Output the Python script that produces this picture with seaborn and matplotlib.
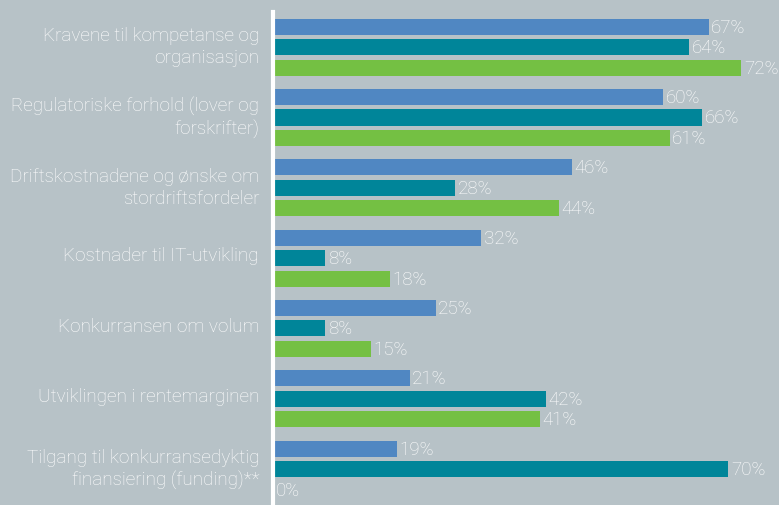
import matplotlib
matplotlib.use("Agg")
import matplotlib.pyplot as plt
import seaborn as sns
import pandas as pd
import numpy as np

categories = [
    "Kravene til kompetanse og\norganisasjon",
    "Regulatoriske forhold (lover og\nforskrifter)",
    "Driftskostnadene og ønske om\nstordriftsfordeler",
    "Kostnader til IT-utvikling",
    "Konkurransen om volum",
    "Utviklingen i rentemarginen",
    "Tilgang til konkurransedyktig\nfinansiering (funding)**",
]
series_names = ["Serie 1", "Serie 2", "Serie 3"]
series_a = [67, 60, 46, 32, 25, 21, 19]
series_b = [64, 66, 28, 8, 8, 42, 70]
series_c = [72, 61, 44, 18, 15, 41, 0]
colors = ["#5087c2", "#008599", "#74c043"]
bg = "#b7c2c7"

sns.set_theme(style="white")
plt.rcParams["font.family"] = ["Roboto", "DejaVu Sans"]

rows = []
for name, vals in zip(series_names, [series_a, series_b, series_c]):
    for cat, v in zip(categories, vals):
        rows.append({"cat": cat, "series": name, "value": v})
df = pd.DataFrame(rows)

W, H = 779, 506
fig = plt.figure(figsize=(W / 100, H / 100), dpi=100, facecolor=bg)
ax = fig.add_axes([273 / W, 0, 1 - 273 / W, (H - 13) / H])
ax.set_facecolor(bg)

sns.barplot(data=df, y="cat", x="value", hue="series", orient="h",
            palette=colors, width=0.87, gap=0.214, dodge=True,
            order=categories, hue_order=series_names, ax=ax,
            saturation=1, legend=False, errorbar=None, linewidth=0,
            edgecolor="none")

ax.set_xlim(0, (W - 273) / 6.5)
ax.set_ylim(6.51, -0.5)
ax.set_xlabel("")
ax.set_ylabel("")
ax.set_xticks([])

for s in ["top", "right", "bottom"]:
    ax.spines[s].set_visible(False)
ax.spines["left"].set_color("white")
ax.spines["left"].set_linewidth(3)
ax.spines["left"].set_zorder(5)

ax.set_yticks([i - 0.07 for i in range(len(categories))])
ax.set_yticklabels(categories, fontsize=13.6, color="white", fontweight="light",
                   ha="right", multialignment="right", linespacing=1.3)
ax.tick_params(axis="y", which="major", length=0, pad=10)
ax.set_yticks([i + 0.48 for i in range(len(categories))], minor=True)
ax.tick_params(axis="y", which="minor", direction="in", length=17,
               width=1.3, color="white")

for container in ax.containers:
    ax.bar_label(container, labels=[f"{v:.0f}%" for v in container.datavalues],
                 padding=2, color="white", fontsize=13.5, fontweight="light")

fig.savefig("out.png", dpi=100, facecolor=bg)
